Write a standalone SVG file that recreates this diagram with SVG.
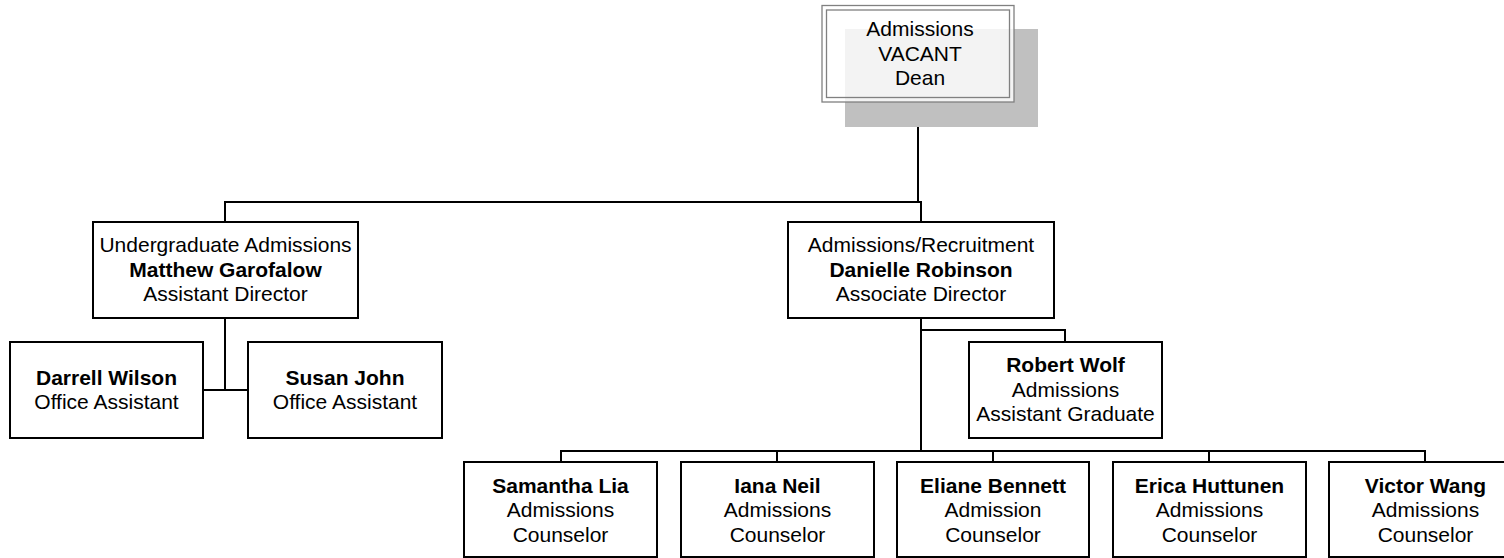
<svg xmlns="http://www.w3.org/2000/svg" width="1504" height="558" viewBox="0 0 1504 558">
<style>
  .box { fill: #ffffff; stroke: #000000; stroke-width: 2; }
  .conn { fill: none; stroke: #000000; stroke-width: 2; }
  text { font-family: "Liberation Sans", Arial, sans-serif; font-size: 21px; fill: #000000; text-anchor: middle; }
  .b { font-weight: bold; }
</style>
<rect width="1504" height="558" fill="#ffffff"/>
<g id="connectors">
  <path class="conn" d="M918 102 V202"/>
  <path class="conn" d="M225 222 V202 H921 V222"/>
  <path class="conn" d="M225 318 V390 M203 390 H248"/>
  <path class="conn" d="M921 318 V451"/>
  <path class="conn" d="M921 330 H1065 V342"/>
  <path class="conn" d="M561 462 V451 H1425 V462"/>
  <path class="conn" d="M777 451 V462 M993 451 V462 M1209 451 V462"/>
</g>
<g id="node-dean">
  <rect x="845" y="29" width="193" height="98" fill="#c0c0c0"/>
  <rect x="822" y="5.5" width="192" height="96.5" fill="#ffffff" fill-opacity="0.8" stroke="#808080" stroke-width="1.3"/>
  <rect x="826.5" y="10" width="183" height="87.5" fill="none" stroke="#808080" stroke-width="1.3"/>
  <text x="920" y="36">Admissions</text>
  <text x="920" y="60.5">VACANT</text>
  <text x="920" y="85">Dean</text>
</g>
<g id="node-matthew">
  <rect class="box" x="93" y="222" width="265" height="96"/>
  <text x="225.5" y="252">Undergraduate Admissions</text>
  <text x="225.5" y="276.5" class="b">Matthew Garofalow</text>
  <text x="225.5" y="301">Assistant Director</text>
</g>
<g id="node-darrell">
  <rect class="box" x="10" y="342" width="193" height="96"/>
  <text x="106.5" y="384.5" class="b">Darrell Wilson</text>
  <text x="106.5" y="409">Office Assistant</text>
</g>
<g id="node-susan">
  <rect class="box" x="248" y="342" width="194" height="96"/>
  <text x="345" y="384.5" class="b">Susan John</text>
  <text x="345" y="409">Office Assistant</text>
</g>
<g id="node-danielle">
  <rect class="box" x="788" y="222" width="266" height="96"/>
  <text x="921" y="252">Admissions/Recruitment</text>
  <text x="921" y="276.5" class="b">Danielle Robinson</text>
  <text x="921" y="301">Associate Director</text>
</g>
<g id="node-robert">
  <rect class="box" x="969" y="342" width="193" height="96"/>
  <text x="1065.5" y="372" class="b">Robert Wolf</text>
  <text x="1065.5" y="396.5">Admissions</text>
  <text x="1065.5" y="421">Assistant Graduate</text>
</g>
<g id="node-samantha">
  <rect class="box" x="464" y="462" width="193" height="95"/>
  <text x="560.5" y="492.5" class="b">Samantha Lia</text>
  <text x="560.5" y="517">Admissions</text>
  <text x="560.5" y="541.5">Counselor</text>
</g>
<g id="node-iana">
  <rect class="box" x="681" y="462" width="193" height="95"/>
  <text x="777.5" y="492.5" class="b">Iana Neil</text>
  <text x="777.5" y="517">Admissions</text>
  <text x="777.5" y="541.5">Counselor</text>
</g>
<g id="node-eliane">
  <rect class="box" x="897" y="462" width="192" height="95"/>
  <text x="993" y="492.5" class="b">Eliane Bennett</text>
  <text x="993" y="517">Admission</text>
  <text x="993" y="541.5">Counselor</text>
</g>
<g id="node-erica">
  <rect class="box" x="1113" y="462" width="193" height="95"/>
  <text x="1209.5" y="492.5" class="b">Erica Huttunen</text>
  <text x="1209.5" y="517">Admissions</text>
  <text x="1209.5" y="541.5">Counselor</text>
</g>
<g id="node-victor">
  <rect class="box" x="1329" y="462" width="193" height="95"/>
  <text x="1425.5" y="492.5" class="b">Victor Wang</text>
  <text x="1425.5" y="517">Admissions</text>
  <text x="1425.5" y="541.5">Counselor</text>
</g>
</svg>
